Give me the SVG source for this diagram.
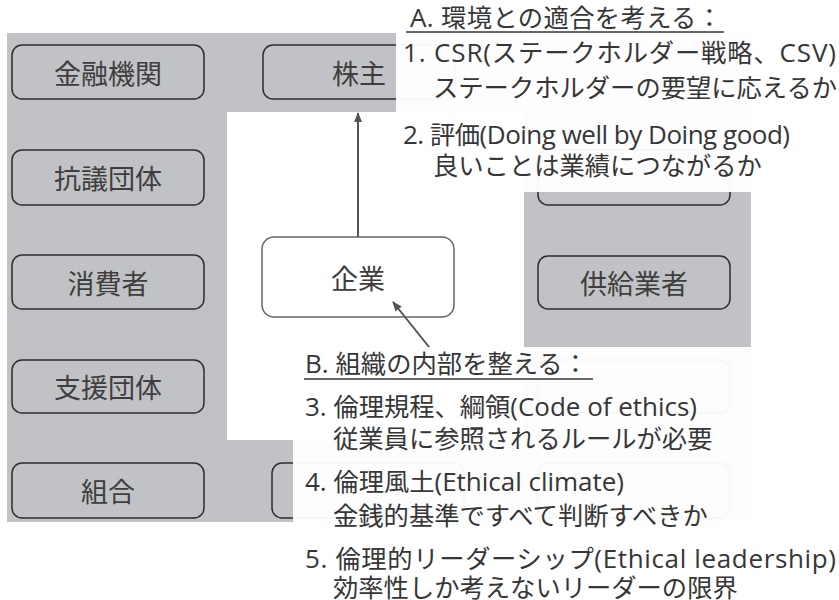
<svg xmlns="http://www.w3.org/2000/svg" width="839" height="600" viewBox="0 0 839 600">
<defs>
<marker id="ah" markerWidth="10" markerHeight="10" refX="9" refY="5" orient="auto" markerUnits="userSpaceOnUse">
<path d="M0,1 L10,5 L0,9 Z" fill="#555"/>
</marker>
</defs>
<style>
.bg{fill:#c1c2c5}
.node rect{fill:none;stroke:#2e2e2e;stroke-width:1.5}
.node text{font-family:"Noto Sans CJK JP","Noto Sans",sans-serif;font-size:27px;fill:#3e3e3e;text-anchor:middle;dominant-baseline:central}
.ent rect{fill:#fff;stroke:#666}
.conn line{stroke:#555;stroke-width:2;marker-end:url(#ah)}
.ov{fill:#fff;opacity:0.96}
.t{font-family:"Noto Sans CJK JP","Noto Sans",sans-serif;font-size:25.3px;fill:#363636}
.l{font-family:"Open Sans","Noto Sans",sans-serif;font-size:26px}
.ul{stroke:#363636;stroke-width:1.5}
</style>
<rect width="839" height="600" fill="#fff"/>
<rect class="bg" x="7" y="33" width="744" height="489"/>
<rect x="227" y="112" width="297" height="328" fill="#fff"/>
<g id="n1" class="node"><rect x="12" y="45" width="192" height="54" rx="10"/><text x="108" y="72">金融機関</text></g>
<g id="n2" class="node"><rect x="263" y="45" width="192" height="54" rx="10"/><text x="359" y="72">株主</text></g>
<g id="n3" class="node"><rect x="12" y="150" width="192" height="55" rx="10"/><text x="108" y="177">抗議団体</text></g>
<g id="n4" class="node"><rect x="538" y="150" width="192" height="55" rx="10"/></g>
<g id="n5" class="node"><rect x="12" y="255" width="192" height="54" rx="10"/><text x="108" y="282">消費者</text></g>
<g id="n6" class="node"><rect x="538" y="256" width="192" height="53" rx="10"/><text x="634" y="282">供給業者</text></g>
<g id="n7" class="node"><rect x="12" y="360" width="192" height="53" rx="10"/><text x="108" y="386">支援団体</text></g>
<g id="n8" class="node"><rect x="538" y="360" width="192" height="53" rx="10"/></g>
<g id="n9" class="node"><rect x="12" y="463" width="192" height="55" rx="10"/><text x="108" y="490">組合</text></g>
<g id="n10" class="node"><rect x="272" y="463" width="192" height="55" rx="10"/></g>
<g id="n11" class="node"><rect x="538" y="463" width="192" height="55" rx="10"/></g>
<g id="n12" class="node ent"><rect x="262" y="237" width="192" height="80" rx="12"/><text x="358" y="277">企業</text></g>
<g id="connectors" class="conn">
<line x1="358" y1="237" x2="358" y2="113"/>
<line x1="433" y1="352" x2="393" y2="302"/>
</g>
<g id="textA">
<rect class="ov" x="396" y="0" width="443" height="192"/>
<text class="t" x="410" y="27" textLength="312" lengthAdjust="spacing"><tspan class="l">A. </tspan>環境との適合を考える：</text>
<line class="ul" x1="406" y1="32" x2="724" y2="32"/>
<text class="t" x="403" y="62" textLength="433" lengthAdjust="spacing"><tspan class="l">1. CSR(</tspan>ステークホルダー戦略、<tspan class="l">CSV)</tspan></text>
<text class="t" x="433" y="97">ステークホルダーの要望に応えるか</text>
<text class="t" x="403" y="144" textLength="387" lengthAdjust="spacing"><tspan class="l">2. </tspan>評価<tspan class="l">(Doing well by Doing good)</tspan></text>
<text class="t" x="433" y="175">良いことは業績につながるか</text>
</g>
<g id="textB">
<rect class="ov" x="293" y="347" width="546" height="253"/>
<text class="t" x="305" y="373" textLength="283" lengthAdjust="spacing"><tspan class="l">B. </tspan>組織の内部を整える：</text>
<line class="ul" x1="304" y1="379" x2="593" y2="379"/>
<text class="t" x="305" y="416" textLength="392" lengthAdjust="spacing"><tspan class="l">3. </tspan>倫理規程、綱領<tspan class="l">(Code of ethics)</tspan></text>
<text class="t" x="333" y="448">従業員に参照されるルールが必要</text>
<text class="t" x="305" y="491" textLength="319" lengthAdjust="spacing"><tspan class="l">4. </tspan>倫理風土<tspan class="l">(Ethical climate)</tspan></text>
<text class="t" x="333" y="525">金銭的基準ですべて判断すべきか</text>
<text class="t" x="305" y="568" textLength="531" lengthAdjust="spacing"><tspan class="l">5. </tspan>倫理的リーダーシップ<tspan class="l">(Ethical leadership)</tspan></text>
<text class="t" x="333" y="597">効率性しか考えないリーダーの限界</text>
</g>
</svg>
